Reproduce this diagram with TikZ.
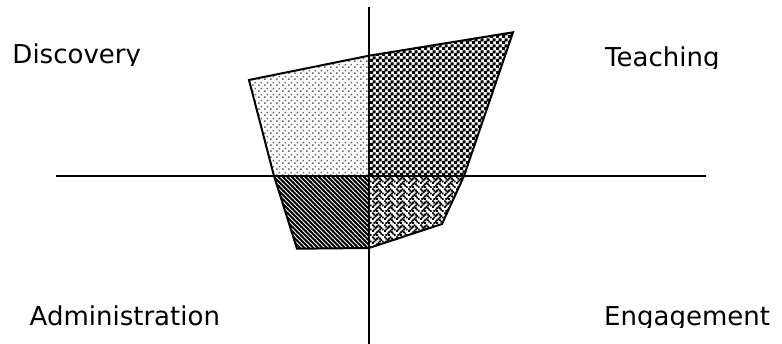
\documentclass[tikz,border=0pt]{standalone}
\usepackage{fontspec}
\setmainfont{DejaVu Sans}
\usetikzlibrary{patterns}

% grey dots (Discovery)
\pgfdeclarepatternformonly{ltdots}{\pgfpointorigin}{\pgfpoint{6pt}{6pt}}{\pgfpoint{6pt}{6pt}}{%
  \pgfpathrectangle{\pgfpoint{0pt}{0pt}}{\pgfpoint{1.8pt}{1.8pt}}%
  \pgfpathrectangle{\pgfpoint{3pt}{3pt}}{\pgfpoint{1.8pt}{1.8pt}}%
  \pgfusepath{fill}}
% checker (Teaching)
\pgfdeclarepatternformonly{bigchecker}{\pgfpointorigin}{\pgfpoint{5.6pt}{5.6pt}}{\pgfpoint{5.6pt}{5.6pt}}{%
  \pgfpathrectangle{\pgfpoint{0pt}{0pt}}{\pgfpoint{3.3pt}{3.3pt}}%
  \pgfpathrectangle{\pgfpoint{2.8pt}{2.8pt}}{\pgfpoint{3.3pt}{3.3pt}}%
  \pgfusepath{fill}}
% diagonal stripes (Administration)
\pgfdeclarepatternformonly{diagstripes}{\pgfpoint{-1pt}{-1pt}}{\pgfpoint{5.5pt}{5.5pt}}{\pgfpoint{4.5pt}{4.5pt}}{%
  \pgfsetlinewidth{1.8pt}%
  \pgfpathmoveto{\pgfpoint{-0.5pt}{5pt}}\pgfpathlineto{\pgfpoint{5pt}{-0.5pt}}%
  \pgfusepath{stroke}}
% weave (Engagement)
\newcommand{\wvpx}[2]{\pgfpathrectangle{\pgfpoint{#1*1.5pt}{(7-#2)*1.5pt}}{\pgfpoint{2pt}{2pt}}}
\pgfdeclarepatternformonly{weavepat}{\pgfpointorigin}{\pgfpoint{12pt}{12pt}}{\pgfpoint{12pt}{12pt}}{%
  \wvpx{0}{0}\wvpx{4}{0}%
  \wvpx{1}{1}\wvpx{3}{1}\wvpx{5}{1}%
  \wvpx{2}{2}\wvpx{6}{2}%
  \wvpx{1}{3}\wvpx{5}{3}\wvpx{7}{3}%
  \wvpx{0}{4}\wvpx{4}{4}%
  \wvpx{3}{5}\wvpx{5}{5}%
  \wvpx{2}{6}\wvpx{6}{6}%
  \wvpx{1}{7}\wvpx{3}{7}\wvpx{7}{7}%
  \pgfusepath{fill}}

\begin{document}
\begin{tikzpicture}[x=1pt,y=-1pt,
  lbl/.style={anchor=base west,inner sep=0pt,font=\fontsize{26}{30}\selectfont},
  axisline/.style={line width=1.5pt},
  outline/.style={line width=2pt,line join=miter}]
\useasboundingbox (0,0) rectangle (782,344);

% polygon corners
\coordinate (dtl) at (249,80);
\coordinate (tm)  at (369,55.7);
\coordinate (ttr) at (513,32.3);
\coordinate (rm)  at (464,176);
\coordinate (ebr) at (442,224);
\coordinate (bm)  at (369,248);
\coordinate (abl) at (297,248.7);
\coordinate (lm)  at (274,176);
\coordinate (o)   at (369,176);

% axis ends
\coordinate (vt) at (369,7);
\coordinate (vb) at (369,344);
\coordinate (hl) at (56,176);
\coordinate (hr) at (706,176);

% quadrant fills
\fill[pattern=ltdots,pattern color=black!60] (dtl)--(tm)--(o)--(lm)--cycle;
\fill[pattern=bigchecker,pattern color=black] (tm)--(ttr)--(rm)--(o)--cycle;
\fill[pattern=weavepat,pattern color=black] (o)--(rm)--(ebr)--(bm)--cycle;
\fill[pattern=diagstripes,pattern color=black] (lm)--(o)--(bm)--(abl)--cycle;

% outline
\draw[outline] (dtl)--(tm)--(ttr)--(rm)--(ebr)--(bm)--(abl)--(lm)--cycle;

% axes
\draw[axisline] (vt)--(vb);
\draw[axisline] (hl)--(hr);

% labels (clipped as in the reference)
\begin{scope}
  \clip (0,0) rectangle (200,65.5);
  \node[lbl] (disc) at (12.3,63.8) {Discovery};
\end{scope}
\begin{scope}
  \clip (560,0) rectangle (782,68.8);
  \node[lbl] (teach) at (605,67) {Teaching};
\end{scope}
\node[lbl] (admin) at (29.5,326) {Administration};
\begin{scope}
  \clip (560,280) rectangle (782,328);
  \node[lbl] (engage) at (604,325.6) {Engagement};
\end{scope}
\end{tikzpicture}
\end{document}
